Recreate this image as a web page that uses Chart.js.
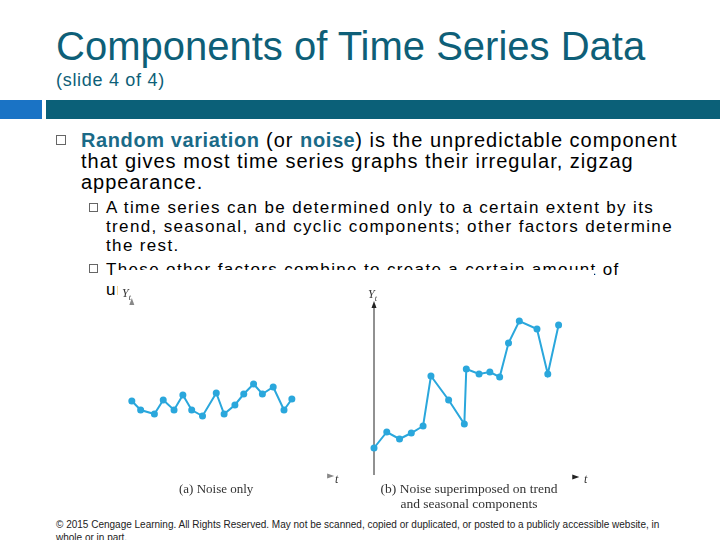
<!DOCTYPE html>
<html>
<head>
<meta charset="utf-8">
<script src="https://cdn.jsdelivr.net/npm/chart.js@4"></script>
<style>
  body { margin: 0; width: 720px; height: 540px; overflow: hidden; background: #fff; position: relative; font-family: "Liberation Sans", Arial, sans-serif; }
  .t { position: absolute; white-space: nowrap; color: #000; }
  .main { font-size: 20px; line-height: 20px; letter-spacing: 1.0px; }
  .sub { font-size: 17px; line-height: 17px; letter-spacing: 1.35px; }
  .hl { color: #1a6a87; font-weight: bold; letter-spacing: 0.6px; }
  .box { position: absolute; border: 1px solid #666; background: #fff; }
  .serif { position: absolute; white-space: nowrap; font-family: "Liberation Serif", "Times New Roman", serif; color: #333; }
  .lbl { position: absolute; font-family: "Liberation Serif", serif; font-style: italic; color: #333; font-size: 12px; line-height: 12px; }
  .lbl sub { font-size: 8px; }
</style>
</head>
<body>
<div class="t" style="left:56px;top:26px;font-size:40px;line-height:40px;color:#0e5f78;">Components of Time Series Data</div>
<div class="t" style="left:56px;top:71px;font-size:18px;line-height:18px;letter-spacing:0.7px;color:#0e5f78;">(slide 4 of 4)</div>
<div style="position:absolute;left:0;top:100px;width:42px;height:19px;background:#1a73c5;"></div>
<div style="position:absolute;left:46px;top:100px;width:674px;height:19px;background:#0b6078;"></div>

<div class="box" style="left:56px;top:135px;width:8px;height:8px;"></div>
<div class="t main" style="left:81px;top:130px;"><span class="hl">Random variation</span> (or <span class="hl">noise</span>) is the unpredictable component</div>
<div class="t main" style="left:81px;top:151px;">that gives most time series graphs their irregular, zigzag</div>
<div class="t main" style="left:81px;top:172px;">appearance.</div>

<div class="box" style="left:89px;top:203px;width:7px;height:7px;"></div>
<div class="t sub" style="left:106px;top:199px;">A time series can be determined only to a certain extent by its</div>
<div class="t sub" style="left:106px;top:218px;">trend, seasonal, and cyclic components; other factors determine</div>
<div class="t sub" style="left:106px;top:237px;">the rest.</div>
<div class="box" style="left:89px;top:264px;width:7px;height:7px;"></div>
<div class="t sub" style="left:106px;top:261px;">These other factors combine to create a certain amount of</div>
<div class="t sub" style="left:106px;top:281px;">unpredictability in almost any time series.</div>

<div style="position:absolute;left:118px;top:270px;width:476px;height:242px;background:#fff;">
  <canvas id="noiseChart" width="240" height="230" style="position:absolute;left:0;top:0;"></canvas>
  <canvas id="combChart" width="234" height="225" style="position:absolute;left:242px;top:0;"></canvas>
  <div class="lbl" style="left:4px;top:17px;">Y<sub>t</sub></div>
  <div class="lbl" style="left:217px;top:203px;">t</div>
  <div class="lbl" style="left:250px;top:18px;">Y<sub>t</sub></div>
  <div class="lbl" style="left:466px;top:203px;">t</div>
  <div class="serif" style="left:61px;top:211px;font-size:13px;">(a) Noise only</div>
  <div class="serif" style="left:258px;top:211px;width:186px;text-align:center;font-size:13.5px;line-height:15px;">(b) Noise superimposed on trend<br>and seasonal components</div>
</div>

<div class="t" style="left:56px;top:520px;font-size:10px;line-height:10px;color:#222;">© 2015 Cengage Learning. All Rights Reserved. May not be scanned, copied or duplicated, or posted to a publicly accessible website, in</div>
<div class="t" style="left:56px;top:533px;font-size:10px;line-height:10px;color:#222;">whole or in part.</div>

<script>
// (a) noise only
const noiseT = [1.0, 1.9, 3.3, 4.2, 5.3, 6.2, 7.1, 8.2, 9.6, 10.4, 11.5, 12.4, 13.4, 14.3, 15.4, 16.5, 17.3];
const noiseY = [6.9, 6.0, 5.6, 7.0, 6.0, 7.5, 6.0, 5.4, 7.7, 5.6, 6.5, 7.6, 8.6, 7.6, 8.3, 6.0, 7.1];

// (b) noise on trend and seasonal components
const combT = [0.0, 1.3, 2.6, 3.8, 5.0, 5.8, 7.6, 9.2, 9.4, 10.7, 11.8, 12.8, 13.7, 14.8, 16.6, 17.7, 18.8];
const combY = [2.7, 4.3, 3.6, 4.2, 4.9, 9.9, 7.5, 5.1, 10.6, 10.1, 10.3, 9.8, 13.2, 15.4, 14.6, 10.1, 15.0];

const lineColor = '#2aa7dc';

// draws the little axis arrows (and the y axis line when asked)
const axisArrows = {
  id: 'axisArrows',
  beforeDatasetsDraw(chart, args, opts) {
    const ctx = chart.ctx;
    const xs = chart.scales.x, ys = chart.scales.y;
    const ax = xs.getPixelForValue(opts.yAxisAt);
    const top = ys.getPixelForValue(opts.yTop);
    const bot = ys.getPixelForValue(0);
    const tx = xs.getPixelForValue(opts.tEnd);
    const ty = ys.getPixelForValue(opts.tLevel);
    ctx.save();
    ctx.strokeStyle = opts.color;
    ctx.fillStyle = opts.color;
    ctx.lineWidth = 1;
    if (opts.drawLine) {
      ctx.beginPath();
      ctx.moveTo(ax, bot);
      ctx.lineTo(ax, top);
      ctx.stroke();
    }
    ctx.beginPath();
    ctx.moveTo(ax, top - 4);
    ctx.lineTo(ax - 2.5, top + 3);
    ctx.lineTo(ax + 2.5, top + 3);
    ctx.fill();
    ctx.beginPath();
    ctx.moveTo(tx + 4, ty);
    ctx.lineTo(tx - 3, ty - 2.5);
    ctx.lineTo(tx - 3, ty + 2.5);
    ctx.fill();
    ctx.restore();
  }
};

function makeChart(id, tVals, yVals, padding, arrows) {
  const ctx = document.getElementById(id).getContext('2d');
  return new Chart(ctx, {
    type: 'scatter',
    data: {
      datasets: [{
        data: tVals.map((t, i) => ({ x: t, y: yVals[i] })),
        showLine: true,
        borderColor: lineColor,
        backgroundColor: lineColor,
        borderWidth: 2,
        pointRadius: 3.5,
        pointBorderWidth: 0,
        tension: 0,
        clip: false
      }]
    },
    options: {
      responsive: false,
      animation: false,
      devicePixelRatio: 1,
      layout: { padding: padding },
      plugins: { legend: { display: false }, tooltip: { enabled: false }, axisArrows: arrows },
      scales: {
        x: { type: 'linear', min: 0, max: 22, display: false },
        y: { type: 'linear', min: 0, max: 18, display: false }
      }
    },
    plugins: [axisArrows]
  });
}

makeChart('noiseChart', noiseT, noiseY, { left: 0, top: 20, right: 20, bottom: 30 },
  { yAxisAt: 1.0, yTop: 16.8, tEnd: 21.2, tLevel: -0.6, drawLine: false, color: '#888' });
makeChart('combChart', combT, combY, { left: 14, top: 25, right: 0, bottom: 20 },
  { yAxisAt: 0, yTop: 17.0, tEnd: 20.5, tLevel: -0.2, drawLine: true, color: '#222' });
</script>
</body>
</html>
